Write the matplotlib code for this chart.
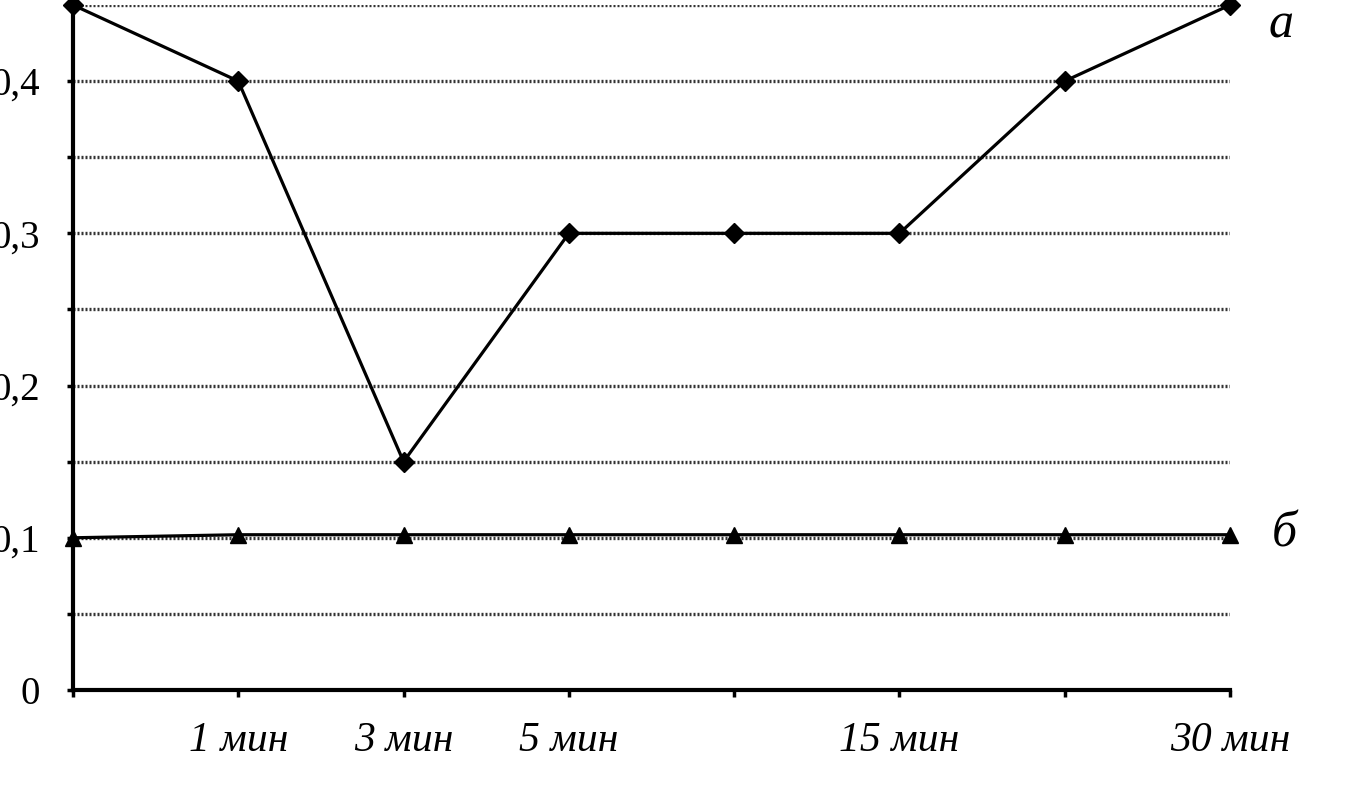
import matplotlib
matplotlib.use("Agg")
import matplotlib.pyplot as plt
from matplotlib.ticker import MultipleLocator, FixedLocator, FuncFormatter

positions = [0, 1, 2, 3, 4, 5, 6, 7]
tick_labels = ["", "1 мин", "3 мин", "5 мин", "", "15 мин", "", "30 мин"]
series_a = [0.45, 0.40, 0.15, 0.30, 0.30, 0.30, 0.40, 0.45]
series_b = [0.100, 0.102, 0.102, 0.102, 0.102, 0.102, 0.102, 0.102]
series_names = ["а", "б"]

plt.rcParams['font.family'] = ['Liberation Serif', 'DejaVu Serif']

fig = plt.figure(figsize=(13.49, 7.97), dpi=100)
ax = fig.add_axes([73/1349, 107/797, 1157/1349, 685/797])
ax.set_xlim(0, 7)
ax.set_ylim(0, 0.45)

ax.yaxis.set_major_locator(MultipleLocator(0.1))
ax.yaxis.set_minor_locator(MultipleLocator(0.05))
ax.yaxis.set_major_formatter(FuncFormatter(lambda v, p: "0" if abs(v) < 1e-9 else f"{v:.1f}".replace(".", ",")))
for yv in [0.05 * i for i in range(1, 10)]:
    ax.axhline(yv, color="#333333", lw=2.4, ls=(0, (0.6, 0.6)), zorder=1)

ax.xaxis.set_major_locator(FixedLocator(positions))
ax.set_xticklabels(tick_labels, fontsize=30, style="italic")
ax.tick_params(axis="x", direction="out", length=5, width=2.5, pad=18)
ax.tick_params(axis="y", which="both", direction="out", length=4, width=2.5, labelsize=28, pad=20)

for s in ["top", "right"]:
    ax.spines[s].set_visible(False)
for s in ["left", "bottom"]:
    ax.spines[s].set_linewidth(3)

ax.plot(positions, series_a, color="black", lw=2.3, marker="D", markersize=10, clip_on=False, zorder=3)
ax.plot(positions, series_b, color="black", lw=2.3, marker="^", markersize=11, clip_on=False, zorder=3)

ax.text(7.23, 0.437, series_names[0], fontsize=36, style="italic", va="center", ha="left")
ax.text(7.25, series_b[-1], series_names[1], fontsize=36, style="italic", va="center", ha="left")

fig.savefig("out.png", dpi=100, facecolor="white")
